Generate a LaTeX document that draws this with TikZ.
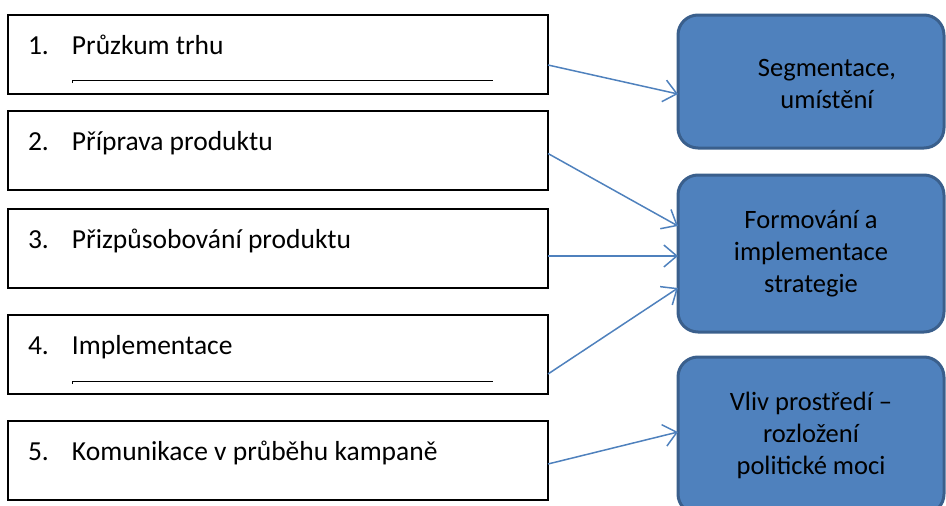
\documentclass[tikz,border=0pt]{standalone}
\usepackage{fontspec}
\setmainfont{Carlito}
\usetikzlibrary{arrows.meta}
\definecolor{boxblue}{HTML}{4F81BD}
\definecolor{boxedge}{HTML}{3A5F8C}
\newcommand{\stepnum}[1]{\makebox[44pt][l]{#1}}

\begin{document}
\begin{tikzpicture}[x=1pt, y=-1pt,
  stepbox/.style = {draw, line width=1.2pt, anchor=north west, outer sep=0pt,
    text width=500pt, align=flush left, inner xsep=20pt, inner ysep=0pt,
    text height=39pt, text depth=40pt, font=\fontsize{27.5}{33}\selectfont},
  goalbox/.style = {draw=boxedge, fill=boxblue, line width=3pt,
    rounded corners=20pt, anchor=north west, outer sep=0pt,
    minimum width=266pt, align=center, font=\fontsize{26.5}{32}\selectfont},
  link/.style = {draw=boxblue, line width=1.5pt,
    -{Straight Barb[length=13pt,width=22pt]}},
  rule/.style = {line width=1pt}]
  \path[use as bounding box] (0,0) rectangle (946,506);
  \clip (0,0) rectangle (946,506);

  \node[stepbox] (pruzkum)  at (8,15)  {\stepnum{1.}Průzkum trhu};
  \node[stepbox] (priprava) at (8,111) {\stepnum{2.}Příprava produktu};
  \node[stepbox] (prizp)    at (8,209) {\stepnum{3.}Přizpůsobování produktu};
  \node[stepbox] (impl)     at (8,315) {\stepnum{4.}Implementace};
  \node[stepbox] (komun)    at (8,421) {\stepnum{5.}Komunikace v průběhu kampaně};

  \draw[rule] ([shift={(64,-11)}]pruzkum.south west) |- ([shift={(485,-14)}]pruzkum.south west);
  \draw[rule] ([shift={(64,-10)}]impl.south west) |- ([shift={(485,-13)}]impl.south west);

  \node[goalbox, minimum height=133pt,
    label={[align=center, font=\fontsize{26.5}{32}\selectfont, xshift=16pt, yshift=-2pt]center:Segmentace,\\umístění}]
    (segm) at (678,15) {};
  \node[goalbox, minimum height=157pt] (strat) at (678,175) {Formování a\\implementace\\strategie};
  \node[goalbox, minimum height=157pt] (vliv)  at (678,357) {Vliv prostředí –\\rozložení\\politické moci};

  \draw[link] ([yshift=-10.5pt]pruzkum.east) -- ([yshift=-12.5pt]segm.west);
  \draw[link] ([yshift=-3pt]priprava.east)   -- ([yshift=27.5pt]strat.west);
  \draw[link] ([yshift=-7.5pt]prizp.east)    -- ([yshift=-2.5pt]strat.west);
  \draw[link] ([yshift=-19.5pt]impl.east)    -- ([yshift=-34.5pt]strat.west);
  \draw[link] ([yshift=-3.5pt]komun.east)    -- ([yshift=3.5pt]vliv.west);
\end{tikzpicture}
\end{document}
